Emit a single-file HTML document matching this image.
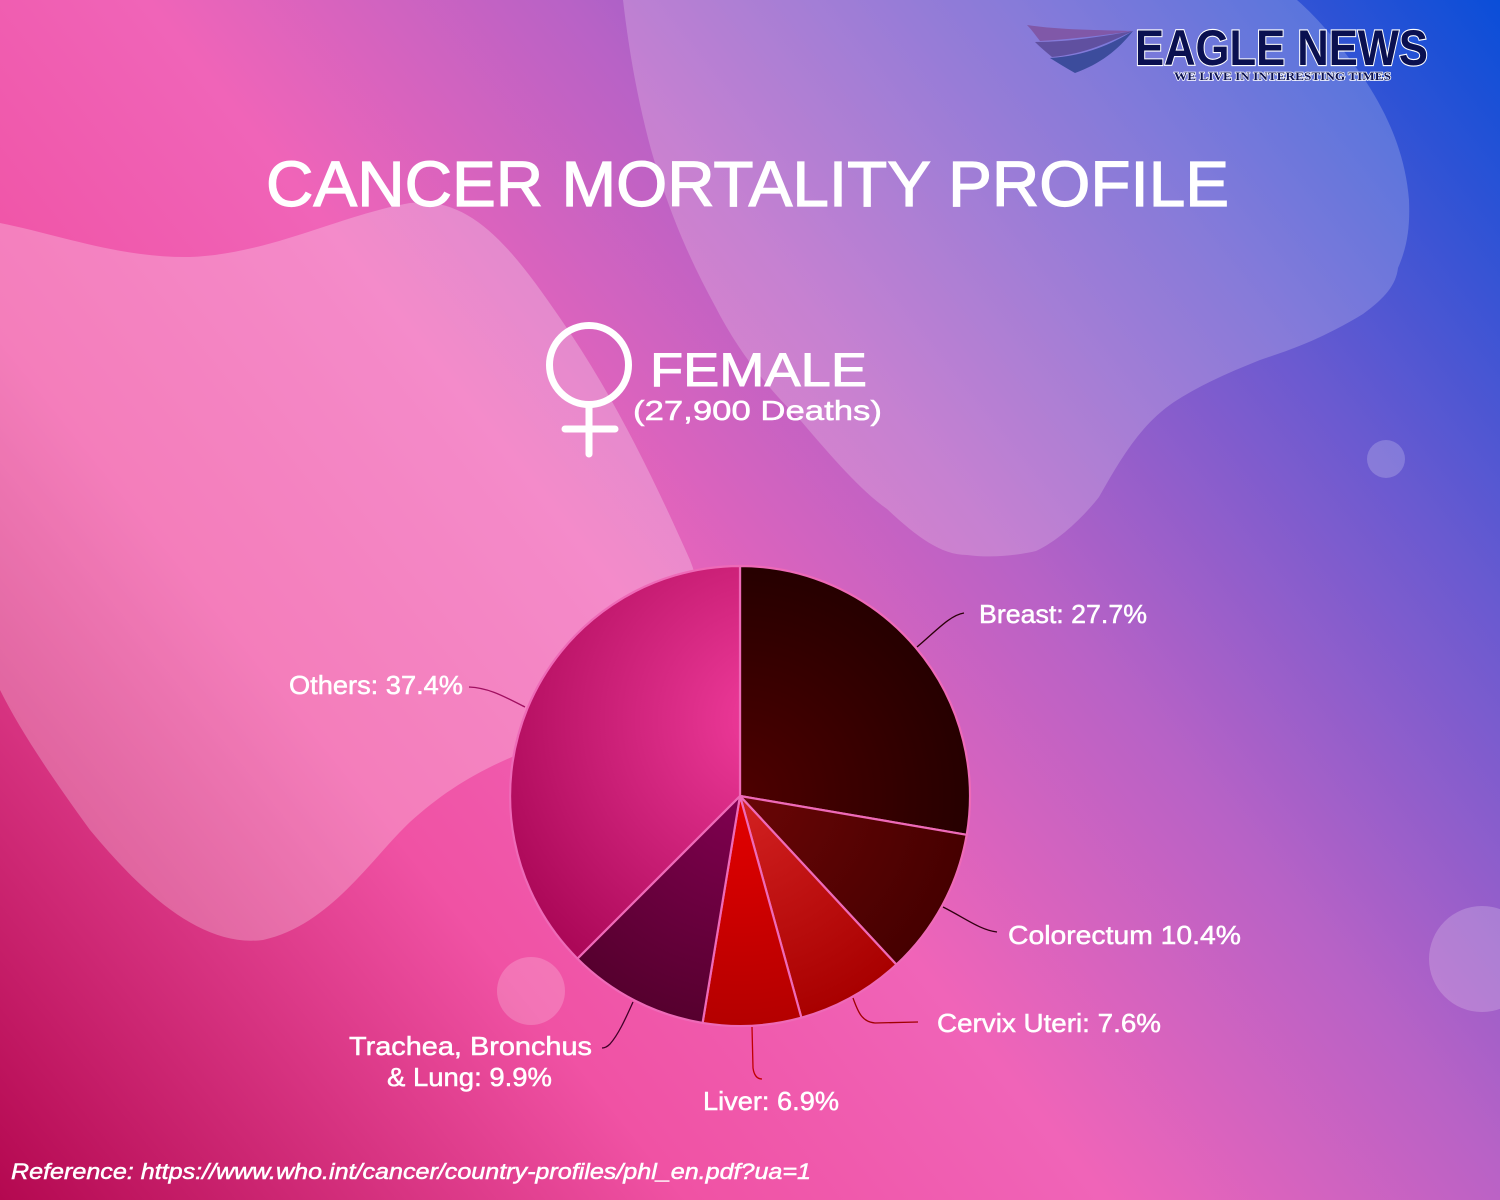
<!DOCTYPE html>
<html>
<head>
<meta charset="utf-8">
<style>
  html,body{margin:0;padding:0;width:1500px;height:1200px;overflow:hidden;background:#e060b0;}
  svg{display:block;}
  text{font-family:"Liberation Sans",sans-serif;}
</style>
</head>
<body>
<svg width="1500" height="1200" viewBox="0 0 1500 1200" xmlns="http://www.w3.org/2000/svg">
  <defs>
    <linearGradient id="bg" gradientUnits="userSpaceOnUse" x1="0" y1="1200" x2="1500" y2="0">
      <stop offset="0" stop-color="#b40850"/>
      <stop offset="0.28" stop-color="#f052a4"/>
      <stop offset="0.45" stop-color="#f064b8"/>
      <stop offset="0.62" stop-color="#b862c6"/>
      <stop offset="0.8" stop-color="#6a5ad0"/>
      <stop offset="1" stop-color="#0a4ed8"/>
    </linearGradient>
    <radialGradient id="gBreast" gradientUnits="userSpaceOnUse" cx="740" cy="796" r="230">
      <stop offset="0" stop-color="#4e0000"/>
      <stop offset="1" stop-color="#260000"/>
    </radialGradient>
    <radialGradient id="gColo" gradientUnits="userSpaceOnUse" cx="740" cy="796" r="230">
      <stop offset="0" stop-color="#6a0606"/>
      <stop offset="1" stop-color="#460000"/>
    </radialGradient>
    <radialGradient id="gCerv" gradientUnits="userSpaceOnUse" cx="740" cy="796" r="230">
      <stop offset="0" stop-color="#d42222"/>
      <stop offset="1" stop-color="#a80000"/>
    </radialGradient>
    <radialGradient id="gLiver" gradientUnits="userSpaceOnUse" cx="740" cy="796" r="230">
      <stop offset="0" stop-color="#e40000"/>
      <stop offset="1" stop-color="#b40000"/>
    </radialGradient>
    <radialGradient id="gTrach" gradientUnits="userSpaceOnUse" cx="740" cy="796" r="230">
      <stop offset="0" stop-color="#800050"/>
      <stop offset="1" stop-color="#56002e"/>
    </radialGradient>
    <radialGradient id="gOther" gradientUnits="userSpaceOnUse" cx="770" cy="720" r="300">
      <stop offset="0" stop-color="#f03c9c"/>
      <stop offset="1" stop-color="#ac0858"/>
    </radialGradient>
  </defs>

  <!-- background -->
  <rect x="0" y="0" width="1500" height="1200" fill="url(#bg)"/>

  <!-- left blob -->
  <path d="M0,223 C60,235 120,258 190,257 C270,254 340,215 410,203 C470,196 510,245 560,318 C610,390 650,470 690,560 C710,610 700,650 660,690 C620,720 570,740 512,757 C470,775 440,795 410,822 C370,860 330,925 263,940 C200,948 140,890 90,830 C50,775 20,730 0,690 Z" fill="#ffffff" fill-opacity="0.25"/>

  <!-- top-right blob -->
  <path d="M623,0 C630,60 640,110 652,153 C670,215 690,260 715,306 C740,355 770,390 801,421 C830,455 860,490 887,509 C915,535 940,555 967,555 C990,558 1015,556 1036,551 C1060,540 1085,515 1099,497 C1120,460 1140,425 1174,402 C1200,385 1230,372 1260,360 C1290,350 1320,340 1363,314 C1385,298 1396,285 1398,268 C1408,245 1410,225 1409,200 C1405,150 1385,110 1363,77 C1340,45 1320,20 1297,0 Z" fill="#ffffff" fill-opacity="0.2"/>

  <!-- circles -->
  <circle cx="531" cy="991" r="34" fill="#ffffff" fill-opacity="0.2"/>
  <circle cx="1386" cy="459" r="19" fill="#ffffff" fill-opacity="0.2"/>
  <circle cx="1482" cy="959" r="53" fill="#ffffff" fill-opacity="0.2"/>

  <!-- logo -->
  <g>
    <path d="M1027,25 C1060,30 1100,30 1133,31 C1100,36 1060,40 1040,41 C1036,36 1032,30 1027,25 Z" fill="#8058a8"/>
    <path d="M1035,42 C1070,42 1105,36 1133,31 C1110,42 1085,54 1052,57 C1046,52 1040,47 1035,42 Z" fill="#6050a0"/>
    <path d="M1050,58 C1085,56 1112,44 1133,31 C1118,50 1100,64 1075,73 C1066,68 1058,63 1050,58 Z" fill="#3c4c9c"/>
    <text x="1135" y="65" font-size="50" font-weight="bold" textLength="293" lengthAdjust="spacingAndGlyphs" fill="#0a1050" stroke="#ffffff" stroke-width="2.2" paint-order="stroke" style="font-family:'Liberation Sans',sans-serif;">EAGLE NEWS</text>
    <text x="1174" y="80" font-size="12" font-weight="bold" textLength="217" lengthAdjust="spacingAndGlyphs" fill="#0a1050" stroke="#ffffff" stroke-width="1.4" paint-order="stroke" style="font-family:'Liberation Serif',serif;">WE LIVE IN INTERESTING TIMES</text>
  </g>

  <!-- title -->
  <text x="266" y="206" font-size="64" fill="#ffffff" stroke="#ffffff" stroke-width="1.2" textLength="963" lengthAdjust="spacingAndGlyphs">CANCER MORTALITY PROFILE</text>

  <!-- venus symbol -->
  <g stroke="#ffffff" stroke-width="7" fill="none" stroke-linecap="round">
    <circle cx="589" cy="365" r="39.5"/>
    <line x1="589" y1="405" x2="589" y2="454"/>
    <line x1="565" y1="429" x2="615" y2="429"/>
  </g>
  <text x="650" y="386" font-size="47.5" fill="#ffffff" stroke="#ffffff" stroke-width="0.9" textLength="217" lengthAdjust="spacingAndGlyphs">FEMALE</text>
  <text x="633" y="420" font-size="28" fill="#ffffff" stroke="#ffffff" stroke-width="0.5" textLength="249" lengthAdjust="spacingAndGlyphs">(27,900 Deaths)</text>

  <!-- pie -->
  <g stroke="#ee6ab8" stroke-width="2.2" stroke-linejoin="round">
    <path d="M740,796 L740,566 A230,230 0 0 1 966.7,834.8 Z" fill="url(#gBreast)"/>
    <path d="M740,796 L966.7,834.8 A230,230 0 0 1 896.4,964.6 Z" fill="url(#gColo)"/>
    <path d="M740,796 L896.4,964.6 A230,230 0 0 1 801.4,1017.7 Z" fill="url(#gCerv)"/>
    <path d="M740,796 L801.4,1017.7 A230,230 0 0 1 702.6,1022.9 Z" fill="url(#gLiver)"/>
    <path d="M740,796 L702.6,1022.9 A230,230 0 0 1 577.4,958.6 Z" fill="url(#gTrach)"/>
    <path d="M740,796 L577.4,958.6 A230,230 0 0 1 740,566 Z" fill="url(#gOther)"/>
  </g>

  <!-- leader lines -->
  <g fill="none" stroke-width="1.3">
    <path d="M917,647 C935,632 950,615 964,613" stroke="#2a0008"/>
    <path d="M943,907 C965,918 980,930 997,932" stroke="#300010"/>
    <path d="M853,998 C858,1012 862,1022 875,1023 L918,1022" stroke="#a00000"/>
    <path d="M752,1027 L753,1068 C754,1075 757,1079 762,1079" stroke="#c00000"/>
    <path d="M633,1002 C625,1020 618,1035 610,1044 C607,1047 605,1048 602,1048" stroke="#400028"/>
    <path d="M469,687 C490,688 505,697 525,707" stroke="#a01060"/>
  </g>

  <!-- labels -->
  <g fill="#ffffff" stroke="#ffffff" stroke-width="0.5" font-size="26">
    <text x="979" y="623" textLength="168" lengthAdjust="spacingAndGlyphs">Breast: 27.7%</text>
    <text x="1008" y="944" textLength="233" lengthAdjust="spacingAndGlyphs">Colorectum 10.4%</text>
    <text x="937" y="1032" textLength="224" lengthAdjust="spacingAndGlyphs">Cervix Uteri: 7.6%</text>
    <text x="703" y="1110" textLength="136" lengthAdjust="spacingAndGlyphs">Liver: 6.9%</text>
    <text x="349" y="1055" textLength="243" lengthAdjust="spacingAndGlyphs">Trachea, Bronchus</text>
    <text x="387" y="1086" textLength="165" lengthAdjust="spacingAndGlyphs">&amp; Lung: 9.9%</text>
    <text x="289" y="694" textLength="174" lengthAdjust="spacingAndGlyphs">Others: 37.4%</text>
  </g>

  <!-- reference -->
  <text x="11" y="1179" font-size="22" font-style="italic" fill="#ffffff" stroke="#ffffff" stroke-width="0.5" textLength="800" lengthAdjust="spacingAndGlyphs">Reference: https://www.who.int/cancer/country-profiles/phl_en.pdf?ua=1</text>
</svg>
</body>
</html>
